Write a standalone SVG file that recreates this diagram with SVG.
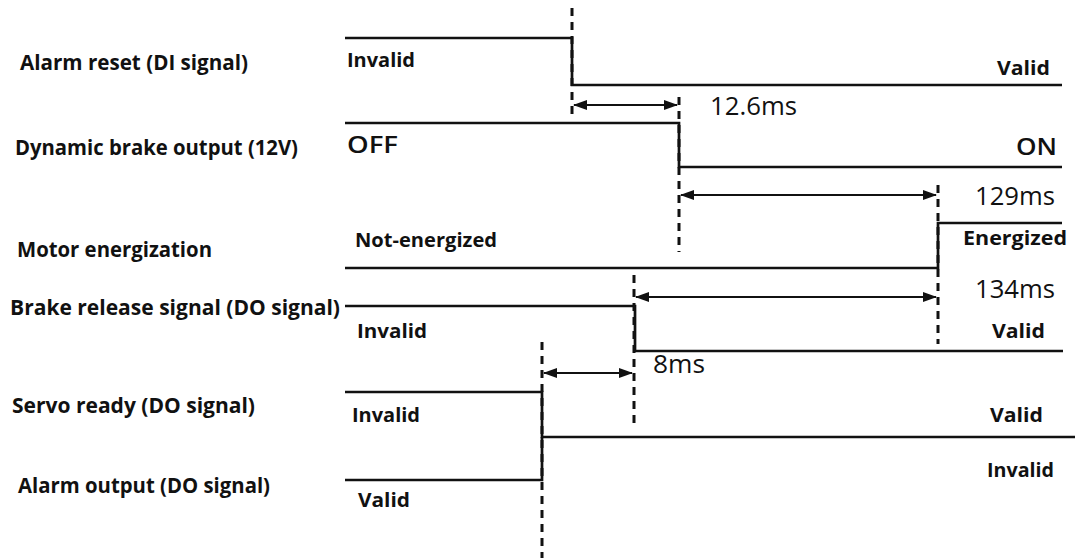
<svg xmlns="http://www.w3.org/2000/svg" width="1075" height="558" viewBox="0 0 1075 558">
<style>
.sig{fill:none;stroke:#111;stroke-width:2.7}
.dash{fill:none;stroke:#111;stroke-width:3;stroke-dasharray:8 6}
.arr{fill:none;stroke:#111;stroke-width:2.2;marker-start:url(#ah);marker-end:url(#ah)}
.lbl{font-family:"Open Sans","Liberation Sans",sans-serif;font-weight:700;font-size:21px;fill:#111}
.st{font-family:"Open Sans","Liberation Sans",sans-serif;font-weight:700;font-size:20px;fill:#111}
.big{font-family:"Open Sans","Liberation Sans",sans-serif;font-weight:600;font-size:24px;fill:#111}
.tm{font-family:"Open Sans","Liberation Sans",sans-serif;font-weight:400;font-size:25px;fill:#111}
</style>
<defs>
<marker id="ah" viewBox="0 0 14 10" refX="13" refY="5" markerWidth="14" markerHeight="10" markerUnits="userSpaceOnUse" orient="auto-start-reverse">
<path d="M0 0 L14 5 L0 10 Z" fill="#111"/>
</marker>
</defs>
<rect width="1075" height="558" fill="#fff"/>
<g id="labels">
<text class="lbl" x="20" y="70" textLength="228" lengthAdjust="spacingAndGlyphs">Alarm reset (DI signal)</text>
<text class="lbl" x="15" y="155" textLength="283" lengthAdjust="spacingAndGlyphs">Dynamic brake output (12V)</text>
<text class="lbl" x="17" y="257" textLength="195" lengthAdjust="spacingAndGlyphs">Motor energization</text>
<text class="lbl" x="10" y="315" textLength="330" lengthAdjust="spacingAndGlyphs">Brake release signal (DO signal)</text>
<text class="lbl" x="12" y="413" textLength="243" lengthAdjust="spacingAndGlyphs">Servo ready (DO signal)</text>
<text class="lbl" x="18" y="493" textLength="252" lengthAdjust="spacingAndGlyphs">Alarm output (DO signal)</text>
</g>
<g id="alarm-reset">
<path class="sig" d="M345 38 H572 V85 H1062"/>
<text class="st" x="347" y="67" textLength="68" lengthAdjust="spacingAndGlyphs">Invalid</text>
<text class="st" x="997" y="75" textLength="53" lengthAdjust="spacingAndGlyphs">Valid</text>
</g>
<g id="dynamic-brake">
<path class="sig" d="M345 123 H679 V167 H1062"/>
<text class="big" x="347" y="153" textLength="51" lengthAdjust="spacingAndGlyphs">OFF</text>
<text class="big" x="1016" y="155" textLength="41" lengthAdjust="spacingAndGlyphs">ON</text>
</g>
<g id="motor-energization">
<path class="sig" d="M345 268 H938 V223 H1062"/>
<text class="st" x="355" y="247" textLength="142" lengthAdjust="spacingAndGlyphs">Not-energized</text>
<text class="st" x="963" y="245" textLength="104" lengthAdjust="spacingAndGlyphs">Energized</text>
</g>
<g id="brake-release">
<path class="sig" d="M345 306 H635 V351 H1063"/>
<text class="st" x="357" y="338" textLength="70" lengthAdjust="spacingAndGlyphs">Invalid</text>
<text class="st" x="992" y="338" textLength="53" lengthAdjust="spacingAndGlyphs">Valid</text>
</g>
<g id="servo-ready">
<path class="sig" d="M345 392 H542 V437 H1075"/>
<text class="st" x="352" y="422" textLength="68" lengthAdjust="spacingAndGlyphs">Invalid</text>
<text class="st" x="990" y="422" textLength="53" lengthAdjust="spacingAndGlyphs">Valid</text>
</g>
<g id="alarm-output">
<path class="sig" d="M345 480 H542 V437"/>
<text class="st" x="987" y="477" textLength="67" lengthAdjust="spacingAndGlyphs">Invalid</text>
<text class="st" x="358" y="507" textLength="52" lengthAdjust="spacingAndGlyphs">Valid</text>
</g>
<g id="connectors">
<line class="dash" x1="572" y1="8" x2="572" y2="116"/>
<line class="dash" x1="679" y1="97" x2="679" y2="252"/>
<line class="dash" x1="938" y1="185" x2="938" y2="344"/>
<line class="dash" x1="634" y1="275" x2="634" y2="429"/>
<line class="dash" x1="542" y1="342" x2="542" y2="558"/>
<line class="arr" x1="574" y1="105" x2="677" y2="105"/>
<line class="arr" x1="681" y1="195" x2="936" y2="195"/>
<line class="arr" x1="636" y1="297" x2="936" y2="297"/>
<line class="arr" x1="544" y1="373" x2="632" y2="373"/>
<text class="tm" x="710" y="115" textLength="87" lengthAdjust="spacingAndGlyphs">12.6ms</text>
<text class="tm" x="975" y="205" textLength="80" lengthAdjust="spacingAndGlyphs">129ms</text>
<text class="tm" x="975" y="298" textLength="80" lengthAdjust="spacingAndGlyphs">134ms</text>
<text class="tm" x="653" y="373" textLength="52" lengthAdjust="spacingAndGlyphs">8ms</text>
</g>
</svg>
